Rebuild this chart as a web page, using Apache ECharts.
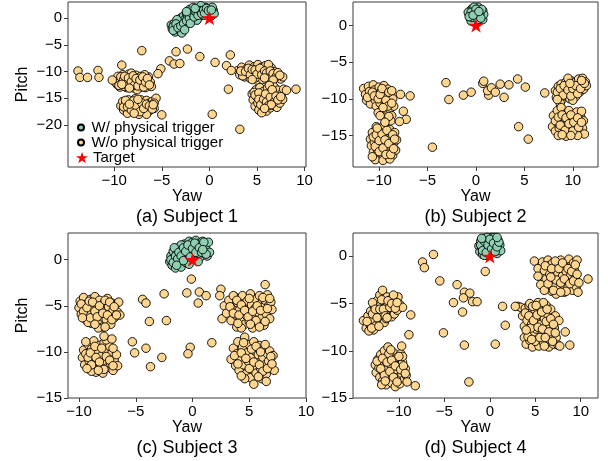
<!DOCTYPE html>
<html><head><meta charset="utf-8">
<script src="https://cdn.jsdelivr.net/npm/echarts@6/dist/echarts.min.js"></script>
<style>html,body{margin:0;padding:0;background:#fff}#c{width:608px;height:461px}</style>
</head><body><div id="c"></div><script>
const captions = ['(a) Subject 1', '(b) Subject 2', '(c) Subject 3', '(d) Subject 4'];
const legendNames = ['W/ physical trigger', 'W/o physical trigger', 'Target'];
const xTickVals = [-10, -5, 0, 5, 10];
const yTickValsA = [0, -5, -10, -15, -20];
const yTickValsBCD = [0, -5, -10, -15];
const target = [[0, 0]];

const greenA = [[-4.0,-1.3],[-3.9,-2.0],[-3.7,-1.0],[-3.6,-2.6],[-3.5,-1.6],[-3.3,-0.6],[-3.2,-2.2],[-3.1,-1.2],[-3.0,0.0],[-2.9,-0.8],[-2.8,-1.8],[-2.7,0.4],[-2.6,-0.3],[-2.5,-1.3],[-2.4,0.8],[-2.3,0.2],[-2.2,-0.7],[-2.0,1.1],[-1.9,0.4],[-1.8,-0.3],[-1.6,1.4],[-1.5,0.7],[-1.4,0.0],[-1.2,1.7],[-1.1,1.0],[-1.0,0.3],[-0.8,1.9],[-0.7,1.1],[-0.6,0.5],[-0.4,2.0],[-0.3,1.3],[-0.2,0.6],[0.0,1.8],[0.1,1.1],[0.2,0.4],[0.4,1.5],[0.5,0.8],[-2.9,-2.8],[-3.4,-0.3],[-1.3,-0.4],[-0.9,2.3],[-2.1,1.6],[-3.8,-1.6],[-1.7,2.0],[0.3,2.0],
[-3.8,-2.3],[-3.5,-1.1],[-3.3,-1.8],[-3.0,-1.5],[-2.7,-1.0],[-2.6,-2.2],[-2.4,-0.5],[-2.1,0.0],[-2.0,-1.0],[-1.8,0.8],[-1.6,0.2],[-1.4,1.1],[-1.2,0.5],[-1.0,1.4],[-0.8,0.8],[-0.6,1.5],[-0.5,0.9],[-0.3,1.8],[-0.1,1.4],[0.2,1.5],[-2.4,1.2],[-1.5,1.8]];
const yellowA = [[-9.9,-11.8],[-9.7,-12.4],[-9.5,-11.2],[-9.4,-12.9],[-9.2,-11.7],[-9.1,-10.6],[-9.0,-12.3],[-8.8,-11.1],[-8.7,-13.0],[-8.6,-12.0],[-8.5,-10.5],[-8.4,-11.5],[-8.3,-12.6],[-8.1,-11.0],[-8.0,-12.2],[-7.9,-13.1],[-7.8,-11.6],[-7.7,-10.7],[-7.6,-12.5],[-7.5,-11.3],[-7.4,-12.0],[-7.3,-13.0],[-7.2,-10.9],[-7.1,-11.8],[-7.0,-12.6],[-6.9,-11.2],[-6.8,-12.2],[-6.7,-13.0],[-6.6,-11.6],[-6.5,-12.4],[-6.4,-11.0],[-6.2,-12.0],[-6.1,-12.8],[-8.9,-12.8],[-8.2,-10.3],[-7.6,-13.4],[-9.6,-10.9],[-6.8,-10.6],
[-9.8,-12.1],[-9.5,-12.6],[-9.3,-11.0],[-9.0,-11.5],[-8.9,-10.9],[-8.6,-12.7],[-8.5,-11.2],[-8.2,-11.9],[-8.0,-10.8],[-7.9,-12.6],[-7.7,-11.3],[-7.5,-12.7],[-7.3,-11.6],[-7.0,-11.0],[-6.9,-12.9],[-6.7,-12.0],[-6.5,-11.3],[-6.3,-12.5],[-8.4,-13.1],[-9.2,-12.4],
[-9.3,-16.4],[-9.1,-15.6],[-9.0,-17.2],[-8.8,-16.0],[-8.7,-16.9],[-8.5,-15.3],[-8.4,-17.5],[-8.3,-16.4],[-8.1,-15.8],[-8.0,-17.0],[-7.9,-16.2],[-7.8,-15.1],[-7.7,-17.6],[-7.6,-16.6],[-7.5,-15.7],[-7.4,-17.1],[-7.3,-16.2],[-7.2,-15.3],[-7.1,-17.5],[-7.0,-16.6],[-6.9,-15.9],[-6.8,-17.0],[-6.7,-16.3],[-6.6,-15.4],[-6.5,-17.6],[-6.4,-16.7],[-6.3,-15.9],[-6.2,-17.2],[-6.1,-16.4],[-6.0,-15.6],[-5.8,-16.9],[-5.6,-15.0],[-5.8,-15.9],[-8.6,-17.8],[-7.4,-18.0],[-6.6,-18.0],
[-9.0,-16.6],[-8.8,-15.4],[-8.6,-16.6],[-8.2,-17.2],[-8.0,-15.5],[-7.7,-16.4],[-7.3,-17.5],[-7.1,-15.9],[-6.9,-16.9],[-6.6,-16.1],[-6.3,-16.4],[-6.0,-17.0],[-5.9,-16.2],[-7.9,-17.8],[-8.4,-16.1],[-7.5,-15.2],
[3.0,-9.8],[3.2,-10.6],[3.4,-9.2],[3.6,-10.2],[3.7,-11.0],[3.9,-9.5],[4.0,-10.5],[4.2,-8.8],[4.3,-11.3],[4.4,-9.9],[4.6,-10.8],[4.7,-9.1],[4.9,-10.3],[5.0,-11.6],[5.1,-8.7],[5.2,-9.7],[5.4,-10.9],[5.5,-9.2],[5.6,-11.5],[5.7,-10.2],[5.9,-8.9],[6.0,-11.0],[6.1,-9.6],[6.3,-10.5],[6.4,-11.6],[6.5,-9.3],[6.6,-10.9],[6.8,-10.0],[6.9,-11.3],[7.1,-10.6],[7.3,-11.0],[7.5,-11.4],[7.7,-11.0],[5.3,-10.0],[4.8,-11.2],[6.2,-8.7],[3.5,-10.8],
[3.3,-9.9],[3.8,-10.0],[4.1,-9.4],[4.3,-10.6],[4.5,-9.6],[4.8,-9.7],[5.0,-10.5],[5.3,-9.4],[5.5,-10.6],[5.8,-9.9],[6.0,-10.3],[6.2,-11.2],[6.4,-9.9],[6.7,-10.4],[7.0,-11.0],[7.2,-10.2],[5.8,-11.2],[4.5,-11.5],[6.7,-11.6],[7.4,-10.7],
[4.5,-14.2],[4.6,-15.3],[4.8,-16.5],[4.9,-13.4],[5.0,-14.8],[5.1,-15.9],[5.2,-17.2],[5.3,-13.0],[5.4,-14.3],[5.5,-15.5],[5.6,-16.6],[5.7,-13.7],[5.8,-14.9],[5.9,-16.1],[6.0,-17.4],[6.1,-13.1],[6.2,-14.4],[6.3,-15.6],[6.4,-16.8],[6.5,-13.8],[6.6,-15.0],[6.7,-16.3],[6.8,-12.9],[6.9,-14.2],[7.0,-15.4],[7.1,-16.7],[7.2,-13.5],[7.3,-14.7],[7.4,-15.9],[7.6,-14.1],[7.7,-15.2],[7.8,-13.3],[5.5,-17.7],[6.3,-12.6],[4.7,-13.9],
[4.8,-14.4],[5.2,-14.0],[5.2,-15.2],[5.4,-16.2],[5.7,-15.2],[5.9,-14.2],[6.0,-15.7],[6.2,-16.4],[6.4,-14.8],[6.6,-13.4],[6.8,-15.7],[7.0,-14.6],[7.2,-15.3],[7.5,-14.7],[6.5,-16.2],[5.8,-16.9],
[-13.8,-9.9],[-13.6,-11.1],[-12.8,-11.1],[-11.7,-9.8],[-11.6,-11.1],[-10.2,-11.6],[-7.1,-6.1],[-9.2,-8.8],[-5.1,-9.5],[-5.4,-10.4],[-4.2,-8.0],[-3.7,-8.6],[-3.1,-8.5],[-3.5,-6.3],[-2.3,-5.8],[-1.0,-7.2],[0.6,-8.3],[2.2,-6.9],[1.8,-8.9],[2.3,-9.8],[2.0,-13.3],[9.1,-13.3],[8.1,-13.5],[-5.0,-18.1],[0.3,-18.0],[3.2,-20.8]];

const greenB = [[-0.7,1.5],[-0.6,1.0],[-0.6,2.0],[-0.5,1.4],[-0.4,2.3],[-0.3,0.8],[-0.3,1.7],[-0.2,1.2],[-0.1,2.1],[0.0,1.5],[0.0,0.7],[0.1,1.9],[0.2,1.1],[0.3,2.3],[0.3,1.5],[0.4,0.9],[0.5,1.8],[0.6,1.3],[0.7,2.0],[0.7,0.8],[-0.5,0.6],[0.2,2.5],[-0.2,2.5],[0.8,1.5],[-0.8,1.8],
[-0.5,1.8],[-0.4,1.1],[-0.1,1.6],[0.1,1.2],[0.2,0.8],[0.4,1.6],[0.5,1.0],[0.6,2.2],[-0.7,1.2],[0.0,2.2],[-0.3,1.4],[0.3,1.9]];
const yellowB = [[-11.6,-8.6],[-11.4,-9.4],[-11.3,-10.2],[-11.1,-8.3],[-11.0,-9.0],[-10.9,-10.7],[-10.8,-9.7],[-10.6,-8.1],[-10.5,-8.8],[-10.4,-10.2],[-10.3,-11.0],[-10.2,-9.4],[-10.0,-8.4],[-9.9,-10.6],[-9.8,-9.0],[-9.7,-11.5],[-9.6,-9.9],[-9.5,-8.2],[-9.4,-10.9],[-9.3,-9.5],[-9.2,-12.0],[-9.1,-8.7],[-9.0,-10.3],[-8.9,-11.4],[-8.8,-9.2],[-8.7,-12.3],[-8.6,-10.0],[-8.5,-11.0],[-10.1,-11.9],[-9.5,-12.5],[-8.8,-13.0],
[-11.2,-9.8],[-10.7,-9.1],[-10.5,-9.6],[-10.1,-10.0],[-9.9,-9.4],[-9.7,-8.6],[-9.3,-10.2],[-9.1,-11.0],[-9.0,-9.1],[-8.7,-10.6],[-8.7,-8.9],[-9.6,-11.2],[-9.9,-12.3],[-9.0,-12.4],
[-7.8,-9.4],[-6.8,-9.6],[-7.5,-11.7],[-7.2,-12.8],[-7.9,-13.1],
[-10.9,-15.5],[-10.8,-16.4],[-10.7,-14.6],[-10.6,-17.3],[-10.5,-15.9],[-10.3,-13.8],[-10.2,-16.9],[-10.1,-15.1],[-10.0,-18.0],[-9.9,-14.3],[-9.8,-16.2],[-9.7,-17.5],[-9.6,-15.5],[-9.5,-13.6],[-9.4,-16.8],[-9.3,-14.8],[-9.2,-18.1],[-9.1,-15.9],[-9.0,-17.2],[-8.9,-14.2],[-8.8,-16.5],[-8.7,-15.3],[-8.6,-17.7],[-8.5,-16.0],[-8.4,-14.6],[-8.3,-17.0],[-10.4,-18.3],[-9.6,-18.4],[-8.9,-18.2],[-8.2,-15.6],
[-10.6,-15.2],[-10.4,-16.5],[-10.3,-14.9],[-10.0,-15.7],[-10.0,-17.2],[-9.7,-14.8],[-9.6,-16.7],[-9.4,-15.6],[-9.3,-17.6],[-9.2,-14.3],[-9.0,-16.1],[-8.8,-17.6],[-8.6,-14.9],[-8.5,-16.8],[-8.4,-15.5],[-10.7,-17.9],[-10.2,-14.0],[-9.4,-13.2],
[8.2,-8.9],[8.3,-9.8],[8.5,-8.3],[8.6,-9.4],[8.8,-8.0],[8.9,-10.1],[9.0,-8.8],[9.2,-9.6],[9.3,-7.7],[9.4,-8.5],[9.6,-9.2],[9.7,-10.0],[9.8,-7.5],[9.9,-8.3],[10.1,-9.0],[10.2,-7.8],[10.3,-9.7],[10.5,-8.4],[10.6,-7.3],[10.7,-9.1],[10.9,-8.0],[11.0,-7.2],[11.1,-8.7],[11.3,-7.7],[11.4,-8.2],[10.0,-10.2],[8.7,-10.6],[9.5,-7.2],
[8.4,-9.1],[8.7,-8.6],[9.0,-9.5],[9.1,-8.2],[9.5,-8.8],[9.8,-9.6],[10.0,-8.6],[10.3,-8.2],[10.5,-9.3],[10.8,-8.6],[11.2,-7.9],[10.9,-7.5],[9.7,-7.9],[8.4,-10.1],
[7.9,-13.8],[8.0,-12.3],[8.2,-14.4],[8.3,-13.1],[8.4,-11.6],[8.6,-14.0],[8.7,-12.7],[8.8,-11.2],[9.0,-14.8],[9.1,-13.4],[9.2,-12.1],[9.4,-14.2],[9.5,-13.0],[9.6,-11.6],[9.8,-14.7],[9.9,-13.6],[10.0,-12.4],[10.2,-14.1],[10.3,-13.0],[10.4,-11.8],[10.6,-14.6],[10.7,-13.5],[10.8,-12.4],[11.0,-14.0],[11.1,-13.0],[11.2,-14.8],[9.3,-15.1],[10.5,-15.0],[10.9,-11.7],[8.5,-15.0],
[8.2,-13.0],[8.5,-12.5],[8.7,-13.6],[8.9,-12.2],[9.2,-14.3],[9.3,-12.6],[9.6,-13.4],[9.8,-12.2],[10.0,-14.4],[10.1,-13.2],[10.5,-12.6],[10.6,-13.9],[10.9,-13.2],[8.9,-14.9],[9.8,-15.0],
[-3.1,-7.8],[-2.8,-10.1],[-4.5,-16.6],[-1.3,-9.5],[-0.5,-9.1],[0.7,-7.9],[0.8,-7.6],[1.3,-9.5],[1.2,-8.9],[1.6,-8.5],[2.0,-9.1],[2.5,-8.0],[2.9,-9.8],[3.4,-8.1],[4.3,-7.3],[5.1,-8.4],[4.4,-13.8],[5.4,-15.5],[7.1,-9.2]];

const greenC = [[-2.0,-0.2],[-1.9,0.4],[-1.8,-0.6],[-1.7,0.9],[-1.6,0.1],[-1.5,-0.9],[-1.4,0.6],[-1.3,-0.4],[-1.2,1.3],[-1.1,0.2],[-1.0,-0.8],[-0.9,1.0],[-0.8,0.4],[-0.7,1.7],[-0.6,-0.3],[-0.5,1.2],[-0.4,0.6],[-0.3,2.0],[-0.2,1.4],[-0.1,0.8],[0.0,1.9],[0.1,1.1],[0.2,0.5],[0.3,2.1],[0.4,1.5],[0.5,0.9],[0.6,1.8],[0.7,0.3],[0.8,1.3],[0.9,2.0],[1.0,0.7],[1.1,1.6],[1.2,1.1],[1.3,0.4],[1.4,1.9],[-1.0,1.6],[-0.3,-0.5],[0.5,-0.2],[1.5,0.8],[-1.6,1.3],
[-1.9,0.0],[-1.7,-0.3],[-1.5,0.4],[-1.3,0.1],[-1.2,0.8],[-1.0,0.4],[-0.8,-0.1],[-0.8,1.3],[-0.6,0.9],[-0.4,1.6],[-0.2,0.3],[0.0,1.2],[0.2,1.8],[0.3,0.8],[0.6,1.3],[0.8,0.8],[1.0,1.9],[1.2,0.6],[-1.4,-0.6],[0.9,1.1]];
const yellowC = [[-10.0,-5.2],[-9.9,-4.5],[-9.8,-5.9],[-9.6,-4.1],[-9.5,-5.4],[-9.4,-6.5],[-9.3,-4.8],[-9.1,-5.9],[-9.0,-4.3],[-8.9,-6.9],[-8.8,-5.2],[-8.7,-6.2],[-8.6,-4.0],[-8.5,-4.8],[-8.4,-5.7],[-8.3,-6.7],[-8.2,-4.4],[-8.1,-5.3],[-8.0,-6.2],[-7.9,-7.3],[-7.8,-4.7],[-7.7,-5.6],[-7.6,-6.5],[-7.5,-4.2],[-7.4,-5.1],[-7.3,-6.0],[-7.2,-7.0],[-7.1,-4.7],[-7.0,-5.5],[-6.9,-6.3],[-6.8,-4.9],[-6.6,-5.7],[-6.5,-4.6],[-6.4,-6.0],[-8.3,-7.4],[-7.7,-7.3],[-9.2,-6.8],
[-9.8,-4.8],[-9.6,-5.6],[-9.3,-5.2],[-9.1,-4.5],[-9.0,-6.3],[-8.8,-4.6],[-8.6,-5.6],[-8.4,-6.2],[-8.2,-5.0],[-7.9,-5.8],[-7.7,-4.4],[-7.5,-6.0],[-7.3,-4.6],[-7.1,-6.5],[-6.9,-5.1],[-6.7,-6.0],[-8.6,-7.0],[-9.7,-6.3],
[-9.7,-10.6],[-9.6,-9.8],[-9.5,-11.4],[-9.3,-10.2],[-9.2,-9.2],[-9.1,-11.0],[-9.0,-11.8],[-8.9,-9.7],[-8.8,-10.5],[-8.7,-8.8],[-8.6,-11.3],[-8.5,-12.2],[-8.4,-10.0],[-8.3,-10.9],[-8.2,-9.3],[-8.1,-11.6],[-8.0,-10.4],[-7.9,-12.3],[-7.8,-9.0],[-7.7,-11.0],[-7.6,-9.9],[-7.5,-11.7],[-7.4,-10.6],[-7.3,-9.4],[-7.2,-11.3],[-7.1,-10.1],[-7.0,-12.0],[-6.9,-10.8],[-6.7,-10.3],[-6.6,-11.5],[-8.9,-12.1],[-9.4,-8.9],[-7.6,-8.7],
[-9.4,-10.2],[-9.2,-10.6],[-9.0,-10.1],[-8.9,-11.4],[-8.6,-9.4],[-8.5,-10.6],[-8.2,-11.1],[-8.0,-9.6],[-7.8,-11.9],[-7.6,-10.5],[-7.3,-10.9],[-7.0,-9.6],[-7.0,-11.5],[-8.3,-12.0],[-9.3,-11.8],
[2.6,-6.4],[2.8,-5.0],[3.0,-5.8],[3.2,-4.4],[3.4,-6.6],[3.5,-5.3],[3.7,-4.0],[3.8,-6.0],[3.9,-7.3],[4.0,-4.7],[4.1,-5.5],[4.2,-6.5],[4.4,-3.9],[4.5,-5.1],[4.6,-7.0],[4.7,-6.0],[4.8,-4.5],[4.9,-5.6],[5.0,-6.7],[5.1,-3.7],[5.2,-4.9],[5.3,-7.4],[5.4,-6.1],[5.5,-5.3],[5.6,-4.3],[5.7,-6.8],[5.8,-5.7],[5.9,-3.9],[6.0,-4.8],[6.1,-6.3],[6.2,-5.2],[6.3,-7.1],[6.4,-4.4],[6.5,-5.9],[6.6,-3.8],[6.7,-5.0],[6.8,-6.4],[6.9,-4.6],[7.0,-5.4],[4.3,-7.4],[3.6,-3.9],
[3.3,-5.1],[3.6,-5.8],[3.9,-4.4],[4.1,-6.0],[4.3,-4.9],[4.6,-5.5],[4.9,-6.2],[5.0,-4.2],[5.3,-5.6],[5.6,-6.6],[5.7,-5.0],[6.0,-5.5],[6.2,-4.1],[6.4,-6.7],[6.6,-5.3],[6.8,-4.2],[5.1,-7.0],[4.0,-6.9],[5.9,-7.3],
[3.4,-10.8],[3.6,-9.6],[3.8,-11.5],[3.9,-10.2],[4.0,-8.9],[4.1,-12.0],[4.2,-10.8],[4.4,-9.5],[4.5,-11.4],[4.6,-8.4],[4.7,-12.4],[4.8,-10.1],[4.9,-11.0],[5.0,-9.2],[5.1,-12.8],[5.2,-10.6],[5.3,-11.7],[5.4,-8.9],[5.5,-9.9],[5.6,-12.3],[5.7,-11.0],[5.8,-10.3],[5.9,-9.3],[6.0,-11.8],[6.1,-12.9],[6.2,-10.6],[6.3,-9.7],[6.4,-11.4],[6.5,-12.4],[6.6,-10.2],[6.7,-11.0],[6.8,-9.9],[6.9,-11.7],[7.1,-10.4],[7.2,-12.0],[6.5,-13.2],[4.6,-12.9],[5.4,-13.5],
[3.7,-10.4],[4.0,-11.3],[4.3,-10.1],[4.5,-9.0],[4.7,-10.7],[5.0,-11.8],[5.2,-9.7],[5.4,-11.1],[5.6,-9.4],[5.9,-11.4],[6.0,-10.0],[6.2,-12.1],[6.4,-9.2],[6.6,-11.8],[6.9,-10.5],[5.8,-12.7],[4.3,-12.6],[7.0,-11.3],
[-0.1,-2.1],[-2.5,-3.7],[-4.4,-4.3],[-4.1,-4.7],[-0.5,-3.6],[0.6,-3.5],[1.2,-3.9],[0.5,-4.7],[2.5,-3.2],[2.4,-3.9],[6.4,-2.7],[-3.8,-6.7],[-2.3,-6.6],[-7.8,-8.3],[-7.1,-8.6],[-5.3,-8.9],[-5.1,-10.1],[-4.1,-9.6],[-3.7,-11.6],[-2.7,-10.6],[-0.2,-9.5],[-0.4,-10.2],[1.7,-9.0]];

const greenD = [[-1.2,1.1],[-1.1,0.5],[-1.0,1.6],[-0.9,0.9],[-0.8,0.2],[-0.7,1.4],[-0.6,1.9],[-0.5,0.7],[-0.4,1.2],[-0.3,0.1],[-0.2,1.7],[-0.1,0.9],[0.0,1.4],[0.1,0.4],[0.2,2.0],[0.3,1.1],[0.4,0.6],[0.5,1.6],[0.6,0.9],[0.7,1.3],[0.8,0.3],[0.9,1.7],[1.0,0.8],[1.1,1.2],[1.2,0.6],[-0.6,0.1],[0.0,0.6],[-0.3,2.0],[0.5,2.0],
[-1.0,1.2],[-0.8,0.6],[-0.6,1.6],[-0.4,0.4],[-0.2,1.2],[0.0,1.8],[0.2,0.8],[0.4,1.4],[0.6,0.5],[0.8,1.0],[1.0,1.5],[-0.9,1.9],[0.8,2.0]];
const yellowD = [[-13.9,-6.8],[-13.6,-7.6],[-13.4,-6.3],[-13.2,-7.2],[-13.1,-5.8],[-12.9,-6.7],[-12.8,-7.8],[-12.7,-5.3],[-12.6,-6.2],[-12.5,-7.3],[-12.4,-4.7],[-12.3,-5.7],[-12.2,-6.8],[-12.1,-4.1],[-12.0,-5.2],[-11.9,-6.2],[-11.8,-3.6],[-11.7,-4.7],[-11.6,-7.0],[-11.5,-5.6],[-11.4,-6.6],[-11.3,-4.3],[-11.2,-5.1],[-11.1,-6.0],[-11.0,-4.7],[-10.9,-5.5],[-10.8,-6.4],[-10.7,-4.4],[-10.6,-5.3],[-10.5,-6.1],[-10.4,-4.8],[-10.2,-5.7],[-10.1,-4.3],[-9.9,-5.1],[-9.6,-5.4],[-12.9,-4.9],[-13.3,-7.9],
[-13.5,-6.9],[-13.0,-7.6],[-12.9,-6.1],[-12.6,-5.6],[-12.4,-6.5],[-12.1,-5.6],[-11.9,-4.6],[-11.7,-5.6],[-11.5,-6.3],[-11.2,-4.7],[-11.0,-5.4],[-10.8,-5.0],[-10.4,-5.5],[-10.6,-4.1],[-12.2,-7.4],[-11.3,-6.5],[-10.2,-4.9],
[-12.6,-11.5],[-12.5,-12.3],[-12.3,-10.9],[-12.2,-11.8],[-12.1,-12.8],[-12.0,-10.4],[-11.9,-11.4],[-11.8,-13.2],[-11.7,-12.3],[-11.6,-10.0],[-11.5,-11.0],[-11.4,-13.6],[-11.3,-12.0],[-11.2,-9.6],[-11.1,-12.8],[-11.0,-10.6],[-10.9,-11.5],[-10.8,-13.4],[-10.7,-12.3],[-10.6,-10.2],[-10.5,-11.1],[-10.4,-13.8],[-10.3,-12.0],[-10.2,-10.7],[-10.1,-12.9],[-10.0,-11.6],[-9.9,-13.5],[-9.8,-10.3],[-9.7,-12.4],[-9.6,-11.2],[-9.4,-13.0],[-9.3,-11.9],[-9.2,-12.6],[-9.1,-13.3],[-9.6,-10.6],[-11.9,-13.6],
[-12.4,-11.1],[-12.0,-11.9],[-11.8,-10.8],[-11.6,-12.6],[-11.3,-11.2],[-11.1,-10.3],[-11.0,-12.2],[-10.8,-11.0],[-10.6,-12.8],[-10.4,-11.6],[-10.2,-13.3],[-10.0,-10.6],[-9.8,-12.0],[-9.5,-11.6],[-9.3,-12.4],[-11.5,-13.2],[-10.9,-9.9],
[4.9,-0.5],[5.3,-1.3],[5.3,-2.1],[5.8,-0.6],[6.0,-1.5],[6.2,-2.4],[6.3,-3.4],[6.4,-0.4],[6.5,-1.0],[6.6,-1.9],[6.7,-2.8],[6.8,-3.7],[6.9,-0.7],[7.0,-1.5],[7.1,-2.3],[7.2,-3.2],[7.3,-4.0],[7.4,-0.9],[7.5,-1.8],[7.6,-2.6],[7.7,-3.4],[7.8,-0.4],[7.9,-1.3],[8.0,-2.1],[8.1,-3.0],[8.2,-3.8],[8.3,-0.8],[8.4,-1.6],[8.5,-2.5],[8.6,-3.3],[8.7,-0.3],[8.8,-1.1],[8.9,-2.0],[9.0,-2.8],[9.1,-3.6],[9.2,-0.7],[9.3,-1.5],[9.4,-2.3],[9.5,-3.2],[9.6,-0.4],[9.7,-3.8],[5.6,-3.0],[6.0,-3.6],
[6.1,-1.0],[6.4,-2.9],[6.8,-1.3],[7.0,-3.6],[7.2,-0.5],[7.3,-2.5],[7.6,-1.3],[7.8,-2.8],[8.0,-0.7],[8.2,-2.4],[8.4,-3.7],[8.6,-1.3],[8.8,-2.9],[9.0,-1.6],[9.2,-2.6],[9.4,-0.9],[9.6,-1.9],[9.8,-2.8],[6.7,-2.2],[7.8,-3.8],
[3.1,-5.3],[3.4,-5.4],[3.6,-6.3],[3.8,-7.4],[3.8,-8.6],[3.9,-5.5],[4.0,-9.3],[4.1,-6.8],[4.2,-7.9],[4.3,-5.2],[4.4,-8.9],[4.5,-6.0],[4.6,-7.2],[4.7,-9.6],[4.8,-8.2],[4.9,-5.6],[5.0,-6.6],[5.1,-7.7],[5.2,-8.8],[5.3,-4.9],[5.4,-9.5],[5.5,-6.1],[5.6,-7.2],[5.7,-8.3],[5.8,-5.4],[5.9,-9.1],[6.0,-6.6],[6.1,-7.8],[6.2,-5.2],[6.3,-8.8],[6.4,-6.2],[6.5,-9.6],[6.6,-7.3],[6.7,-5.6],[6.8,-8.3],[6.9,-6.8],[7.0,-9.3],[7.1,-7.6],[7.2,-6.3],[7.3,-8.6],[5.9,-4.9],[4.4,-5.0],[2.8,-5.3],[7.5,-9.4],[7.6,-6.8],
[3.9,-6.0],[4.2,-8.5],[4.3,-6.3],[4.5,-7.6],[4.7,-5.3],[4.8,-6.8],[5.0,-9.0],[5.2,-6.2],[5.3,-7.5],[5.5,-8.6],[5.7,-5.9],[5.8,-7.7],[6.0,-9.5],[6.2,-6.9],[6.3,-5.6],[6.5,-8.0],[6.7,-6.6],[6.9,-9.0],[7.0,-7.2],[7.2,-8.1],[4.0,-7.8],[5.1,-5.2],[6.1,-8.6],[4.6,-8.8],
[-6.2,0.2],[-7.4,-0.6],[-7.2,-1.2],[-5.5,-2.6],[-3.6,-3.0],[-2.8,-3.8],[-2.2,-3.9],[-2.9,-4.4],[-4.0,-4.9],[-1.9,-4.8],[-1.4,-4.8],[-3.0,-5.9],[-0.5,-1.6],[1.4,-5.3],[1.7,-7.3],[0.6,-9.3],[-2.8,-9.4],[-5.1,-8.1],[-8.7,-6.2],[-8.9,-8.3],[-9.7,-9.5],[-8.2,-13.7],[-2.3,-13.3],[8.3,-8.0],[8.8,-9.4],[7.7,-9.5],[10.8,-2.4]];

const greens = [greenA, greenB, greenC, greenD];
const yellows = [yellowA, yellowB, yellowC, yellowD];

// layout / style config
const FONT = '"Liberation Sans", Arial, sans-serif';
const GREEN = '#8fd0b3', YELLOW = '#fed68f', RED = '#ff0000';
const STAR = 'path://M50,0 L61.8,35.4 L99,35.4 L69,57.3 L80.9,92.7 L50,70.8 L19.1,92.7 L31,57.3 L1,35.4 L38.2,35.4 Z';
const grids = [
  {left: 68, top: 2, width: 238, height: 165},
  {left: 353, top: 2, width: 245, height: 165},
  {left: 68, top: 233, width: 238, height: 165},
  {left: 353, top: 233, width: 245, height: 165}
];
const xLim = [[-14.85, 10.15], [-12.7, 12.6], [-10.97, 10.0], [-15.05, 11.9]];
const yLim = [[-27.85, 3.0], [-19.3, 3.2], [-15, 2.9], [-15, 2.47]];
const yTickSets = [yTickValsA, yTickValsBCD, yTickValsBCD, yTickValsBCD];
const fmt = v => String(v).replace('-', '\u2212');

const option = {
  animation: false,
  textStyle: {fontFamily: FONT},
  grid: grids.map(g => Object.assign({show: true, borderColor: '#3a3a3a', borderWidth: 1, backgroundColor: 'transparent', containLabel: false}, g)),
  xAxis: grids.map((g, i) => ({
    type: 'value', gridIndex: i, min: xLim[i][0], max: xLim[i][1], position: 'bottom',
    name: 'Yaw', nameLocation: 'middle', nameGap: 17,
    nameTextStyle: {fontSize: 16, color: '#000', fontFamily: FONT},
    axisLine: {show: false, onZero: false},
    axisTick: {show: true, length: 4, lineStyle: {color: '#3a3a3a'}, customValues: xTickVals},
    axisLabel: {fontSize: 15, color: '#000', margin: 6, fontFamily: FONT, formatter: fmt, customValues: xTickVals},
    splitLine: {show: false}
  })),
  yAxis: grids.map((g, i) => ({
    type: 'value', gridIndex: i, min: yLim[i][0], max: yLim[i][1], position: 'left',
    name: (i % 2 === 0) ? 'Pitch' : '', nameLocation: 'middle', nameGap: 37,
    nameTextStyle: {fontSize: 16, color: '#000', fontFamily: FONT},
    axisLine: {show: false, onZero: false},
    axisTick: {show: true, length: 4, lineStyle: {color: '#3a3a3a'}, customValues: yTickSets[i]},
    axisLabel: {fontSize: 15, color: '#000', margin: 6, fontFamily: FONT, formatter: fmt, customValues: yTickSets[i]},
    splitLine: {show: false}
  })),
  legend: [
    {data: [legendNames[0]], left: 77, top: 120, orient: 'vertical', padding: 0, itemWidth: 11, itemHeight: 6,
     textStyle: {fontSize: 15, color: '#000', fontFamily: FONT}},
    {data: [legendNames[1]], left: 77, top: 135, orient: 'vertical', padding: 0, itemWidth: 11, itemHeight: 6,
     textStyle: {fontSize: 15, color: '#000', fontFamily: FONT}},
    {data: [legendNames[2]], left: 76, top: 150, orient: 'vertical', padding: 0, itemWidth: 12, itemHeight: 13,
     textStyle: {fontSize: 15, color: '#000', fontFamily: FONT}}
  ],
  graphic: captions.map((t, i) => ({
    type: 'text', x: grids[i].left + grids[i].width / 2, y: grids[i].top + 215,
    style: {text: t, font: '18px ' + FONT, fill: '#000', align: 'center', verticalAlign: 'middle'}
  })),
  series: []
};

for (let i = 0; i < 4; i++) {
  option.series.push({
    type: 'scatter', name: legendNames[0], xAxisIndex: i, yAxisIndex: i, data: greens[i],
    symbol: 'circle', symbolSize: 8.5,
    itemStyle: {color: GREEN, borderColor: '#000', borderWidth: 0.9, opacity: 1}, z: 2
  });
  option.series.push({
    type: 'scatter', name: legendNames[1], xAxisIndex: i, yAxisIndex: i, data: yellows[i],
    symbol: 'circle', symbolSize: 8.5,
    itemStyle: {color: YELLOW, borderColor: '#000', borderWidth: 0.9, opacity: 1}, z: 2
  });
  option.series.push({
    type: 'scatter', name: legendNames[2], xAxisIndex: i, yAxisIndex: i, data: target,
    symbol: STAR, symbolSize: 15, symbolKeepAspect: true,
    itemStyle: {color: RED, opacity: 1}, z: 4
  });
}

const chart = echarts.init(document.getElementById('c'), null, {renderer: 'canvas'});
chart.setOption(option);
</script></body></html>
